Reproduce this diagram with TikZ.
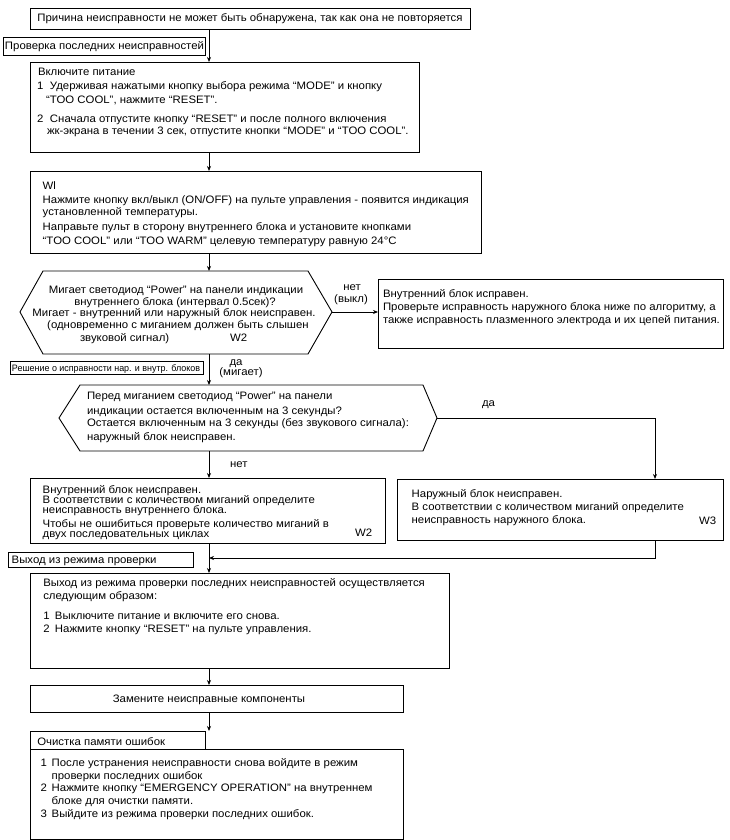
\documentclass[tikz,border=0pt]{standalone}
\usepackage{fontspec}
\setmainfont{Liberation Sans}[FakeStretch=1.055]
\usetikzlibrary{arrows.meta}
\newcommand\tline[4]{\node[txt] (#1) at (#2,#3) {#4};}
\newcommand\numb[2]{\makebox[#1pt][l]{#2}}
\begin{document}
\begin{tikzpicture}[x=1pt,y=-1pt,
  box/.style={draw=black, line width=0.9pt, anchor=north west, inner sep=0pt, outer sep=0pt},
  txt/.style={anchor=base west, inner sep=0pt, outer sep=0pt, font=\fontsize{10.8}{13}\selectfont},
  ctxt/.style={txt, anchor=base},
  smalltxt/.style={anchor=base west, inner sep=0pt, outer sep=0pt, font=\fontsize{9.3}{11}\selectfont},
  conn/.style={line width=0.8pt, -{Stealth[length=5pt,width=4pt]}},
  plain/.style={line width=0.8pt},
  hexa/.style={draw=black, line width=0.9pt}]
\useasboundingbox (0,0) rectangle (729,840);
\coordinate (sp) at (209,0);
\coordinate (rx) at (655,0);

% ---------- boxes ----------
\node[box, minimum width=440pt, minimum height=21pt] (tb) at (30,8) {};
\node[box, minimum width=202pt, minimum height=18pt] (tag1) at (3,37) {};
\node[box, minimum width=389pt, minimum height=90pt] (b2) at (30,62) {};
\node[box, minimum width=451pt, minimum height=82pt] (b3) at (30,171) {};
\node[box, minimum width=345pt, minimum height=69pt] (r1) at (378,279) {};
\node[box, minimum width=193pt, minimum height=13pt] (tag2) at (10,361) {};
\node[box, minimum width=355pt, minimum height=65pt] (l4) at (30,478) {};
\node[box, minimum width=326pt, minimum height=61pt] (r5) at (397,479) {};
\node[box, minimum width=185pt, minimum height=15pt] (tag3) at (8,552) {};
\node[box, minimum width=419pt, minimum height=95pt] (b6) at (30,573) {};
\node[box, minimum width=373pt, minimum height=27pt] (b7) at (30,685) {};
\node[box, minimum width=175pt, minimum height=18pt] (tag4) at (30,731) {};
\node[box, minimum width=373pt, minimum height=90pt] (b8) at (30,749) {};

% ---------- decision hexagons ----------
\coordinate (d1w) at (20,312);
\coordinate (d1nw) at (43,271);
\coordinate (d1ne) at (308,271);
\coordinate (d1e) at (332,312);
\coordinate (d1se) at (308,354);
\coordinate (d1sw) at (43,354);
\coordinate (d1n) at (209,271);
\coordinate (d1s) at (209,354);
\draw[hexa] (d1w) -- (d1nw) -- (d1ne) -- (d1e) -- (d1se) -- (d1sw) -- cycle;

\coordinate (d2w) at (59,418);
\coordinate (d2nw) at (80,385);
\coordinate (d2ne) at (423,385);
\coordinate (d2e) at (437,418);
\coordinate (d2se) at (423,451);
\coordinate (d2sw) at (80,451);
\coordinate (d2n) at (209,385);
\coordinate (d2s) at (209,451);
\draw[hexa] (d2w) -- (d2nw) -- (d2ne) -- (d2e) -- (d2se) -- (d2sw) -- cycle;

\coordinate (j) at (209,558);

% ---------- connectors ----------
\draw[conn] (tb.south -| sp) -- (b2.north -| sp);
\draw[conn] (b2.south -| sp) -- (b3.north -| sp);
\draw[conn] (b3.south -| sp) -- (d1n);
\draw[conn] (d1e) -- (r1.west |- d1e);
\draw[conn] (d1s) -- (d2n);
\draw[conn] (d2e) -- (d2e -| rx) -- (r5.north -| rx);
\draw[conn] (d2s) -- (l4.north -| sp);
\draw[conn] (r5.south -| rx) |- (j);
\draw[plain] (l4.south -| sp) -- (j);
\draw[conn] (j) -- (b6.north -| sp);
\draw[conn] (b6.south -| sp) -- (b7.north -| sp);
\draw[conn] (b7.south -| sp) -- (tag4.north -| sp);

% ---------- texts ----------
\node[ctxt] (t0) at (250,21.5) {Причина неисправности не может быть обнаружена, так как она не повторяется};
\tline{tg1}{5}{50}{Проверка последних неисправностей}

\tline{b2a}{38}{76}{Включите питание}
\tline{b2b}{37}{90}{\numb{13}{1}Удерживая нажатыми кнопку выбора режима “MODE” и кнопку}
\tline{b2c}{46}{103}{“TOO COOL”, нажмите “RESET”.}
\tline{b2d}{37}{122}{\numb{13}{2}Сначала отпустите кнопку “RESET” и после полного включения}
\tline{b2e}{47}{135}{жк-экрана в течении 3 сек, отпустите кнопки “MODE” и “TOO COOL”.}

\tline{b3a}{42.7}{189.3}{Wl}
\tline{b3b}{42.7}{203.3}{Нажмите кнопку вкл/выкл (ON/OFF) на пульте управления - появится индикация}
\tline{b3c}{42.7}{215}{установленной температуры.}
\tline{b3d}{42.7}{230.7}{Направьте пульт в сторону внутреннего блока и установите кнопками}
\tline{b3e}{42.7}{244}{“TOO COOL” или “TOO WARM” целевую температуру равную 24°C}

\node[ctxt] (d1a) at (176,293.3) {Мигает светодиод “Power” на панели индикации};
\node[ctxt] (d1b) at (175,305) {внутреннего блока (интервал 0.5сек)?};
\node[ctxt] (d1c) at (174,316.7) {Мигает - внутренний или наружный блок неисправен.};
\node[ctxt] (d1d) at (178,328.8) {(одновременно с миганием должен быть слышен};
\tline{d1e1}{80}{341}{звуковой сигнал)}
\tline{d1w2}{230}{341}{W2}

\node[ctxt] (no1) at (352,290) {нет};
\node[ctxt] (no1b) at (351,302) {(выкл)};

\tline{r1a}{383}{297.3}{Внутренний блок исправен.}
\tline{r1b}{383}{310.7}{Проверьте исправность наружного блока ниже по алгоритму, а}
\tline{r1c}{383}{323.5}{также исправность плазменного электрода и их цепей питания.}

\node[smalltxt] (tg2) at (12,371) {\scalebox{0.91}[1]{Решение о исправности нар. и внутр. блоков}};
\node[ctxt] (yes1) at (236,365) {да};
\node[ctxt] (yes1b) at (241,375) {(мигает)};

\tline{d2a}{87}{399.3}{Перед миганием светодиод “Power” на панели}
\tline{d2b}{87}{414}{индикации остается включенным на 3 секунды?}
\tline{d2c}{87}{426.7}{Остается включенным на 3 секунды (без звукового сигнала):}
\tline{d2d}{87}{440}{наружный блок неисправен.}

\tline{yes2}{482}{406}{да}
\tline{no2}{230}{467}{нет}

\tline{l4a}{42.7}{493}{Внутренний блок неисправен.}
\tline{l4b}{42.7}{503}{В соответствии с количеством миганий определите}
\tline{l4c}{42.7}{513.7}{неисправность внутреннего блока.}
\tline{l4d}{42.7}{527}{Чтобы не ошибиться проверьте количество миганий в}
\tline{l4e}{42.7}{537.7}{двух последовательных циклах}
\tline{l4w}{355}{536.7}{W2}

\tline{r5a}{411.7}{497.3}{Наружный блок неисправен.}
\tline{r5b}{411.7}{510}{В соответствии с количеством миганий определите}
\tline{r5c}{411.7}{523.3}{неисправность наружного блока.}
\tline{r5w}{699}{524}{W3}

\tline{tg3}{11.7}{563.3}{Выход из режима проверки}

\tline{b6a}{43.3}{586}{Выход из режима проверки последних неисправностей осуществляется}
\tline{b6b}{43.3}{599.3}{следующим образом:}
\tline{b6c}{43.3}{619.3}{\numb{11.7}{1}Выключите питание и включите его снова.}
\tline{b6d}{43.3}{632.7}{\numb{11.7}{2}Нажмите кнопку “RESET” на пульте управления.}

\node[ctxt] (b7a) at (209,702.7) {Замените неисправные компоненты};

\tline{tg4}{37.3}{745}{Очистка памяти ошибок}

\tline{b8a}{40.7}{766}{\numb{11}{1}После устранения неисправности снова войдите в режим}
\tline{b8b}{51.7}{779}{проверки последних ошибок}
\tline{b8c}{40.7}{791.5}{\numb{11}{2}Нажмите кнопку “EMERGENCY OPERATION” на внутреннем}
\tline{b8d}{51.7}{804}{блоке для очистки памяти.}
\tline{b8e}{40.7}{817}{\numb{11}{3}Выйдите из режима проверки последних ошибок.}
\end{tikzpicture}
\end{document}
